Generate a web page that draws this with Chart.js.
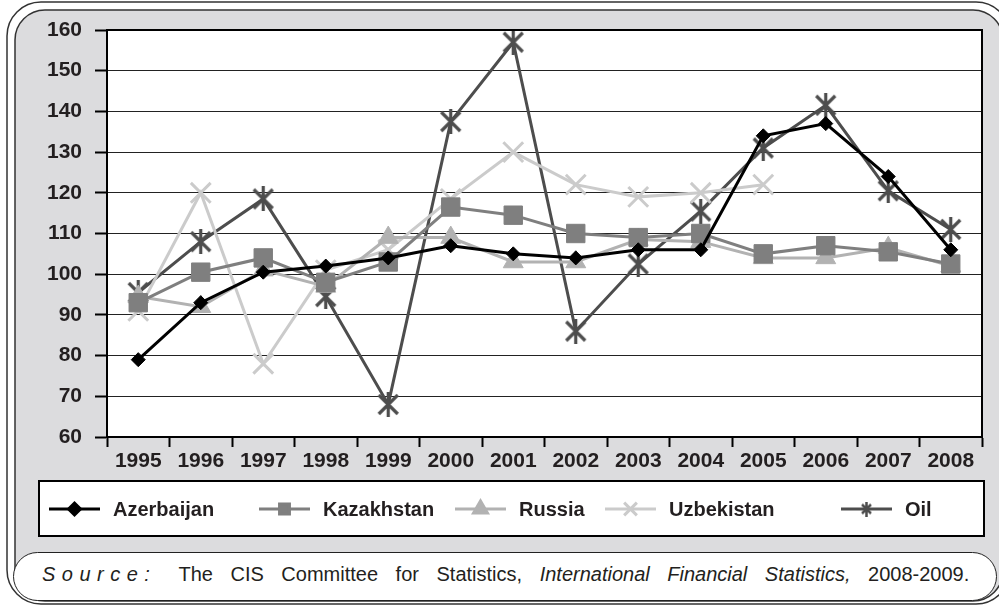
<!DOCTYPE html>
<html lang="en">
<head>
    <meta charset="UTF-8">
    <title>CIS growth indices and oil price</title>
    <script src="https://cdn.jsdelivr.net/npm/chart.js"></script>
    <style>
        body {
            margin: 0;
            background: #fff;
        }
        #wrap {
            position: relative;
            width: 999px;
            height: 605px;
            overflow: hidden;
        }
        #chart {
            position: absolute;
            left: 0;
            top: 0;
        }
        .source {
            position: absolute;
            left: 13px;
            top: 552px;
            width: 984px;
            height: 49px;
            box-sizing: border-box;
            border: 1.5px solid #222;
            border-radius: 25px;
            background: #fff;
            font-family: "Liberation Sans", Arial, sans-serif;
            font-size: 20px;
            line-height: 42px;
            color: #231f20;
            padding-left: 28px;
            white-space: nowrap;
            word-spacing: 12px;
        }
        .source .lbl {
            font-style: italic;
            letter-spacing: 6.5px;
            margin-right: 22px;
        }
    </style>
</head>
<body>

<div id="wrap">
    <canvas id="chart" width="999" height="605"></canvas>
    <div class="source"><span class="lbl">Source:</span>The CIS Committee for Statistics, <i>International Financial Statistics,</i> 2008-2009.</div>
</div>

<script>
    // data
    const years = ['1995', '1996', '1997', '1998', '1999', '2000', '2001', '2002', '2003', '2004', '2005', '2006', '2007', '2008'];
    const azerbaijan = [79, 93, 100.5, 102, 104, 107, 105, 104, 106, 106, 134, 137, 124, 106];
    const kazakhstan = [93, 100.5, 104, 98, 103, 116.5, 114.5, 110, 109, 110, 105, 107, 105.5, 102.5];
    const russia = [94.5, 92, 101, 97, 109, 109, 103, 103, 108.5, 108, 104, 104, 106.5, 102];
    const uzbekistan = [91, 120, 78, 101, 106, 118.5, 130, 122, 119, 120, 122, null, null, null];
    const oil = [95.5, 108, 118.5, 94.5, 68, 137.5, 157, 86, 102.5, 115.5, 131, 141.5, 120.5, 111];
    const yMin = 60, yMax = 160, yStep = 10;

    const FONT = '"Liberation Sans", Arial, sans-serif';
    const TEXT = '#231f20';
    const PANEL = '#dcdcde';

    // Excel-like star marker: an X with a vertical bar
    function starMarker(w, h, lw, color) {
        const c = document.createElement('canvas');
        c.width = w; c.height = h;
        const g = c.getContext('2d');
        g.strokeStyle = color;
        g.lineWidth = lw;
        g.beginPath();
        g.moveTo(2, 3); g.lineTo(w - 2, h - 3);
        g.moveTo(w - 2, 3); g.lineTo(2, h - 3);
        g.moveTo(w / 2, 0); g.lineTo(w / 2, h);
        g.stroke();
        return c;
    }
    const oilColor = '#4d4d4d';
    const oilMark = starMarker(23, 25, 3.2, oilColor);
    const oilMarkSmall = starMarker(13, 15, 2.5, oilColor);

    function roundRect(ctx, x, y, w, h, r) {
        ctx.beginPath();
        ctx.moveTo(x + r, y);
        ctx.lineTo(x + w - r, y);
        ctx.arcTo(x + w, y, x + w, y + r, r);
        ctx.lineTo(x + w, y + h - r);
        ctx.arcTo(x + w, y + h, x + w - r, y + h, r);
        ctx.lineTo(x + r, y + h);
        ctx.arcTo(x, y + h, x, y + h - r, r);
        ctx.lineTo(x, y + r);
        ctx.arcTo(x, y, x + r, y, r);
        ctx.closePath();
    }

    // frame + grey panel + white plot area
    const framePlugin = {
        id: 'frame',
        beforeDraw(chart) {
            const ctx = chart.ctx, a = chart.chartArea;
            ctx.save();
            ctx.fillStyle = '#fff';
            ctx.fillRect(0, 0, chart.width, chart.height);
            ctx.strokeStyle = '#333';
            ctx.lineWidth = 1.5;
            roundRect(ctx, 7, 2, 1003, 602, 34);
            ctx.stroke();
            roundRect(ctx, 15, 10, 988, 591, 30);
            ctx.fillStyle = PANEL;
            ctx.fill();
            ctx.stroke();
            ctx.fillStyle = '#fff';
            ctx.fillRect(a.left, a.top, a.right - a.left, a.bottom - a.top);
            ctx.restore();
        },
        afterDraw(chart) {
            const ctx = chart.ctx, a = chart.chartArea;
            ctx.save();
            ctx.strokeStyle = '#000';
            ctx.lineWidth = 2;
            ctx.beginPath();
            ctx.moveTo(a.left, a.top);
            ctx.lineTo(a.right, a.top);
            ctx.lineTo(a.right, a.bottom);
            ctx.stroke();
            ctx.restore();
        }
    };

    // boxed legend under the x axis
    const legendPos = [49, 259, 455, 605, 841];
    const legendRadius = [6, 7, 8, 9, 0];
    const boxLegend = {
        id: 'boxLegend',
        afterDraw(chart) {
            const ctx = chart.ctx;
            ctx.save();
            ctx.fillStyle = '#fff';
            ctx.fillRect(39, 481, 945, 55);
            ctx.strokeStyle = '#000';
            ctx.lineWidth = 2;
            ctx.strokeRect(39, 481, 945, 55);
            const cy = 509;
            chart.data.datasets.forEach((ds, i) => {
                const x = legendPos[i];
                ctx.strokeStyle = ds.borderColor;
                ctx.fillStyle = ds.pointBackgroundColor;
                ctx.lineWidth = 3;
                ctx.beginPath();
                ctx.moveTo(x, cy);
                ctx.lineTo(x + 51, cy);
                ctx.stroke();
                if (ds.label === 'Oil') {
                    ctx.drawImage(oilMarkSmall, x + 25.5 - oilMarkSmall.width / 2, cy - oilMarkSmall.height / 2);
                } else {
                    ctx.strokeStyle = ds.pointBorderColor;
                    Chart.helpers.drawPoint(ctx, {
                        pointStyle: ds.pointStyle,
                        radius: legendRadius[i],
                        borderWidth: ds.pointBorderWidth,
                        rotation: 0
                    }, x + 25.5, cy);
                }
                ctx.fillStyle = TEXT;
                ctx.font = 'bold 20px ' + FONT;
                ctx.textBaseline = 'middle';
                ctx.textAlign = 'left';
                ctx.fillText(ds.label, x + 64, cy + 1);
            });
            ctx.restore();
        }
    };

    function series(label, data, color, style, radius, bw) {
        return {
            label: label,
            data: data,
            borderColor: color,
            backgroundColor: color,
            pointBackgroundColor: color,
            pointBorderColor: color,
            pointStyle: style,
            pointRadius: radius,
            pointHoverRadius: radius,
            pointBorderWidth: bw,
            borderWidth: 3,
            tension: 0,
            fill: false,
            spanGaps: false
        };
    }

    const ctx = document.getElementById('chart').getContext('2d');
    const chart = new Chart(ctx, {
        type: 'line',
        data: {
            labels: years,
            datasets: [
                series('Azerbaijan', azerbaijan, '#000000', 'rectRot', 7, 1),
                series('Kazakhstan', kazakhstan, '#7f7f7f', 'rect', 13, 1),
                series('Russia', russia, '#b2b2b2', 'triangle', 11.5, 1),
                series('Uzbekistan', uzbekistan, '#cbcbcb', 'crossRot', 14, 3),
                series('Oil', oil, oilColor, oilMark, 11, 1)
            ]
        },
        options: {
            responsive: false,
            animation: false,
            devicePixelRatio: 1,
            layout: { padding: { left: 0, top: 30, right: 15, bottom: 128 } },
            plugins: {
                legend: { display: false },
                tooltip: { enabled: false }
            },
            scales: {
                x: {
                    type: 'category',
                    offset: true,
                    grid: {
                        offset: true,
                        drawOnChartArea: false,
                        drawTicks: true,
                        tickLength: 10,
                        tickColor: '#000',
                        tickWidth: 2
                    },
                    border: { display: true, color: '#000', width: 2 },
                    ticks: {
                        color: TEXT,
                        font: { family: FONT, size: 21, weight: 'bold' },
                        padding: 2,
                        maxRotation: 0,
                        autoSkip: false
                    },
                    afterFit(s) { s.height = 40; }
                },
                y: {
                    min: yMin,
                    max: yMax,
                    ticks: {
                        stepSize: yStep,
                        color: TEXT,
                        font: { family: FONT, size: 21, weight: 'bold' },
                        padding: 13
                    },
                    grid: {
                        color: '#222',
                        lineWidth: 1,
                        tickLength: 12,
                        tickColor: '#000',
                        tickWidth: 2
                    },
                    border: { display: true, color: '#000', width: 2 },
                    afterFit(s) { s.width = 107; }
                }
            }
        },
        plugins: [framePlugin, boxLegend]
    });
</script>

</body>
</html>
